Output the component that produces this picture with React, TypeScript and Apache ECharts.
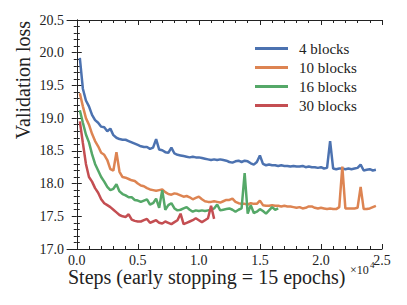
import React, { useEffect, useRef } from "react";
import * as echarts from "echarts";

const EVAL_EVERY = 250;
const SERIES_NAMES = ["4 blocks", "10 blocks", "16 blocks", "30 blocks"];
const COLORS = ["#4C72B0", "#DD8452", "#55A868", "#C44E52"];

const LOSS_4 = [
  19.92, 19.45, 19.27, 19.18, 19.05, 18.97, 18.93, 18.87, 18.86, 18.8,
  18.84, 18.74, 18.7, 18.68, 18.67, 18.67, 18.65, 18.63, 18.61, 18.59,
  18.57, 18.56, 18.56, 18.53, 18.55, 18.68, 18.52, 18.51, 18.48, 18.47,
  18.55, 18.46, 18.44, 18.43, 18.42, 18.41, 18.4, 18.41, 18.4, 18.4,
  18.39, 18.38, 18.37, 18.36, 18.37, 18.36, 18.37, 18.36, 18.35, 18.33,
  18.32, 18.34, 18.35, 18.33, 18.35, 18.34, 18.31, 18.29, 18.33, 18.43,
  18.3, 18.28, 18.29, 18.28, 18.28, 18.27, 18.28, 18.27, 18.27, 18.26,
  18.27, 18.26, 18.26, 18.27, 18.25, 18.26, 18.25, 18.25, 18.24, 18.25,
  18.23, 18.24, 18.65, 18.23, 18.22, 18.23, 18.23, 18.22, 18.23, 18.22,
  18.23, 18.24, 18.29, 18.2, 18.21, 18.22, 18.2, 18.21,
];
const LOSS_10 = [
  19.38, 19.18, 19.0, 18.9, 18.76, 18.65, 18.57, 18.47, 18.44, 18.36,
  18.22, 18.2, 18.48, 18.18, 18.1, 18.09, 18.07, 18.05, 18.04, 18.0,
  17.97, 17.96, 17.93, 17.91, 17.9, 17.89, 17.9, 17.91, 17.87, 17.84,
  17.83, 17.85, 17.84, 17.82, 17.8, 17.81, 17.79, 17.76, 17.78, 17.8,
  17.76, 17.73, 17.72, 17.72, 17.73, 17.72, 17.71, 17.73, 17.75, 17.75,
  17.77, 17.72, 17.7, 17.69, 17.69, 17.68, 17.7, 17.69, 17.69, 17.74,
  17.67, 17.66, 17.66, 17.67, 17.66, 17.66, 17.65, 17.66, 17.65, 17.65,
  17.64, 17.63, 17.64, 17.62, 17.63, 17.65, 17.65, 17.63, 17.62, 17.63,
  17.62, 17.61, 17.62, 17.61, 17.61, 17.64, 18.26, 17.62, 17.62, 17.62,
  17.62, 17.63, 17.95, 17.61, 17.61, 17.62, 17.64, 17.66,
];
const LOSS_16 = [
  19.12, 18.93, 18.75, 18.63, 18.45, 18.3, 18.2, 18.1, 18.03, 17.95,
  17.9, 17.92, 17.99, 17.88, 17.84, 17.82, 17.79, 17.79, 17.75, 17.74,
  17.72, 17.74, 17.76, 17.68, 17.7, 17.77, 17.63, 17.9, 17.6, 17.67,
  17.7, 17.62, 17.59, 17.6, 17.62, 17.64, 17.6, 17.57, 17.59, 17.58,
  17.59, 17.58, 17.59, 17.6, 17.62, 17.68, 17.59, 17.6, 17.61, 17.62,
  17.6, 17.57, 17.6, 17.62, 18.16, 17.54, 17.67, 17.55, 17.57, 17.61,
  17.58, 17.54, 17.59, 17.64, 17.6, 17.62,
];
const LOSS_30 = [
  18.95, 18.62, 18.3, 18.1, 18.03, 17.93, 17.86, 17.76, 17.7, 17.67,
  17.64, 17.6, 17.56, 17.52, 17.5, 17.49, 17.53, 17.45, 17.43, 17.42,
  17.42, 17.44, 17.46, 17.4, 17.42, 17.44, 17.4, 17.39, 17.42, 17.4,
  17.38, 17.41, 17.44, 17.54, 17.38, 17.4, 17.42, 17.44, 17.47, 17.44,
  17.41, 17.44, 17.47, 17.66, 17.46,
];
const LOSSES = [LOSS_4, LOSS_10, LOSS_16, LOSS_30];

const X_MAJOR = [0, 5000, 10000, 15000, 20000, 25000];
const X_MINOR = [
  1000, 2000, 3000, 4000, 6000, 7000, 8000, 9000, 11000, 12000, 13000, 14000,
  16000, 17000, 18000, 19000, 21000, 22000, 23000, 24000,
];
const X_MIN = -800;
const X_MAX = 25000;
const Y_MIN = 17;
const Y_MAX = 20.5;

const FONT = "Liberation Serif, DejaVu Serif, serif";
const INK = "#222";

export default function App() {
  const ref = useRef<HTMLDivElement>(null);
  useEffect(() => {
    if (!ref.current) return;
    const chart = echarts.init(ref.current, null, { renderer: "svg" });
    const axisLine = { show: true, lineStyle: { color: INK, width: 1 } };
    const xBase = {
      type: "value",
      min: X_MIN,
      max: X_MAX,
      splitLine: { show: false },
      axisLine,
    };
    const yBase = {
      type: "value",
      min: Y_MIN,
      max: Y_MAX,
      interval: 0.5,
      splitLine: { show: false },
      minorSplitLine: { show: false },
      axisLine,
      axisTick: { show: true, inside: true, length: 5, lineStyle: { color: INK } },
      minorTick: { show: true, splitNumber: 5, length: 3, lineStyle: { color: INK } },
    };
    const option: any = {
      animation: false,
      textStyle: { fontFamily: FONT },
      grid: { left: 67, right: 25, top: 20, bottom: 56, containLabel: false },
      legend: {
        orient: "vertical",
        left: 255,
        top: 41,
        padding: 0,
        itemWidth: 33,
        itemHeight: 3,
        itemGap: 4,
        icon: "rect",
        data: SERIES_NAMES,
        textStyle: { fontFamily: FONT, fontSize: 15, color: INK, lineHeight: 15, padding: [0, 0, 0, 6] },
      },
      xAxis: [
        {
          ...xBase,
          position: "bottom",
          axisTick: { show: true, inside: true, length: 5, customValues: X_MAJOR, lineStyle: { color: INK } },
          axisLabel: {
            show: true,
            customValues: X_MAJOR,
            margin: 4,
            fontFamily: FONT,
            fontSize: 14,
            color: INK,
            formatter: (v: number) => (v / 10000).toFixed(1),
          },
        },
        {
          ...xBase,
          position: "bottom",
          axisLine: { show: false },
          axisTick: { show: true, inside: true, length: 3, customValues: X_MINOR, lineStyle: { color: INK } },
          axisLabel: { show: false },
        },
        {
          ...xBase,
          position: "top",
          axisTick: { show: true, inside: true, length: 5, customValues: X_MAJOR, lineStyle: { color: INK } },
          axisLabel: { show: false },
        },
        {
          ...xBase,
          position: "top",
          axisLine: { show: false },
          axisTick: { show: true, inside: true, length: 3, customValues: X_MINOR, lineStyle: { color: INK } },
          axisLabel: { show: false },
        },
      ],
      yAxis: [
        {
          ...yBase,
          position: "left",
          axisLabel: {
            show: true,
            margin: 3,
            fontFamily: FONT,
            fontSize: 14,
            color: INK,
            formatter: (v: number) => v.toFixed(1),
          },
        },
        { ...yBase, position: "right", axisLabel: { show: false } },
      ],
      series: SERIES_NAMES.map((name, i) => ({
        name,
        type: "line",
        xAxisIndex: 0,
        yAxisIndex: 0,
        symbol: "none",
        color: COLORS[i],
        lineStyle: { width: 2.5, color: COLORS[i] },
        data: LOSSES[i].map((v, k) => [(k + 1) * EVAL_EVERY, v]),
        z: 2 + i,
      })),
      graphic: [
        {
          type: "text",
          x: 23,
          y: 80,
          rotation: Math.PI / 2,
          style: {
            text: "Validation loss",
            fontFamily: FONT,
            fontSize: 20,
            fill: INK,
            align: "center",
            verticalAlign: "middle",
          },
        },
        {
          type: "text",
          x: 68,
          y: 277,
          style: {
            text: "Steps (early stopping = 15 epochs)",
            fontFamily: FONT,
            fontSize: 20,
            fill: INK,
            align: "left",
            verticalAlign: "middle",
          },
        },
        {
          type: "text",
          x: 350,
          y: 270,
          style: {
            text: "×10",
            fontFamily: FONT,
            fontSize: 12,
            fill: INK,
            align: "left",
            verticalAlign: "middle",
          },
        },
        {
          type: "text",
          x: 370,
          y: 265,
          style: {
            text: "4",
            fontFamily: FONT,
            fontSize: 9,
            fill: INK,
            align: "left",
            verticalAlign: "middle",
          },
        },
      ],
    };
    chart.setOption(option);
    return () => chart.dispose();
  }, []);
  return (
    <div
      ref={ref}
      style={{ position: "absolute", left: 0, top: 0, width: 407, height: 305 }}
    />
  );
}
